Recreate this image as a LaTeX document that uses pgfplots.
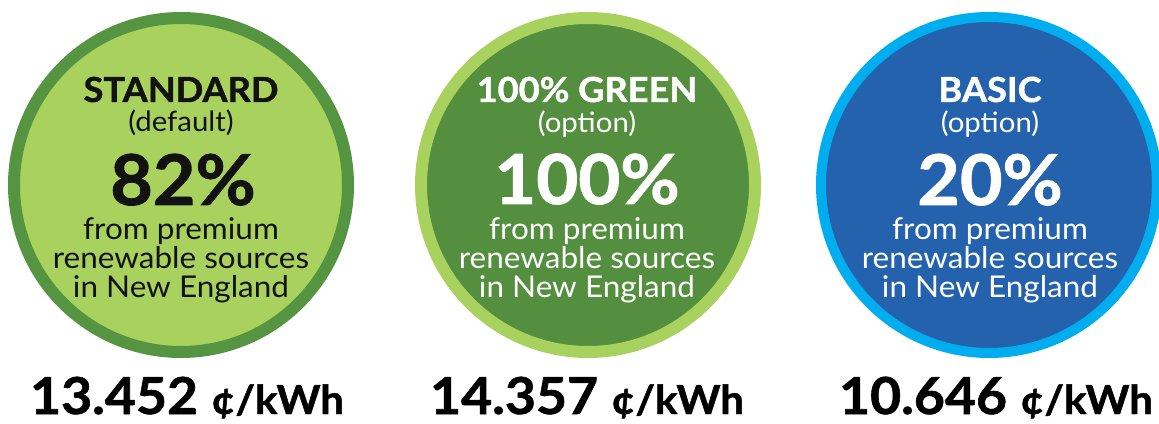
\documentclass[border=0pt]{standalone}
\usepackage{pgfplots}
\pgfplotsset{compat=1.18}
\usepackage{fontspec}
\setmainfont{Lato}[FakeStretch=1.05]
\newfontfamily\heavy{Lato}[FakeStretch=1.05, UprightFont=*-Bold, UprightFeatures={FakeBold=1.2}]
\definecolor{lgreen}{HTML}{A9D15E}
\definecolor{dgreen}{HTML}{559441}
\definecolor{mgreen}{HTML}{538F3E}
\definecolor{dblue}{HTML}{2462AE}
\definecolor{lblue}{HTML}{00AEEF}
\newcommand{\fs}[1]{\fontsize{#1}{#1}\selectfont}
\tikzset{bk/.style={anchor=base, inner sep=0pt, text=black!93}, wt/.style={anchor=base, inner sep=0pt, text=white}}
\begin{document}
\begin{tikzpicture}
\begin{axis}[width=1159pt,height=423pt,scale only axis,set layers,
  xmin=0,xmax=1159,ymin=0,ymax=423,y dir=reverse,hide axis,clip=false]
% circles (centre x, centre y)
\addplot[only marks, mark=*, mark size=167pt, mark options={fill=lgreen, draw=dgreen, line width=12pt}] coordinates {(181,185)};
\addplot[only marks, mark=*, mark size=167pt, mark options={fill=mgreen, draw=lgreen, line width=12pt}] coordinates {(588,185)};
\addplot[only marks, mark=*, mark size=168pt, mark options={fill=dblue, draw=lblue, line width=10pt}] coordinates {(989,185)};
\begin{pgfonlayer}{axis foreground}
% left
\node[bk,font=\fs{34.5}\heavy] at (axis cs:181,102) {STANDARD};
\node[bk,font=\fs{28}] at (axis cs:181,132) {(default)};
\node[bk,font=\fs{70}\heavy] at (axis cs:183,205) {82\%};
\node[bk,font=\fs{30}] at (axis cs:181,240) {from premium};
\node[bk,font=\fs{30}] at (axis cs:181,269) {renewable sources};
\node[bk,font=\fs{30}] at (axis cs:181,298) {in New England};
% middle
\node[wt,font=\fs{34.5}\heavy] at (axis cs:587,102) {100\% GREEN};
\node[wt,font=\fs{28}] at (axis cs:587,133) {(option)};
\node[wt,font=\fs{69}\heavy] at (axis cs:587,204) {100\%};
\node[wt,font=\fs{30}] at (axis cs:587,240) {from premium};
\node[wt,font=\fs{30}] at (axis cs:587,269) {renewable sources};
\node[wt,font=\fs{30}] at (axis cs:587,298) {in New England};
% right
\node[wt,font=\fs{34.5}\heavy] at (axis cs:990,102) {BASIC};
\node[wt,font=\fs{28}] at (axis cs:990,133) {(option)};
\node[wt,font=\fs{70}\heavy] at (axis cs:990,205) {20\%};
\node[wt,font=\fs{30}] at (axis cs:990,240) {from premium};
\node[wt,font=\fs{30}] at (axis cs:990,269) {renewable sources};
\node[wt,font=\fs{30}] at (axis cs:990,298) {in New England};
% prices
\node[bk,text=black] at (axis cs:187,414) {\fs{51}\heavy 13.452 {\fs{40}¢/kWh}};
\node[bk,text=black] at (axis cs:587,414) {\fs{51}\heavy 14.357 {\fs{40}¢/kWh}};
\node[bk,text=black] at (axis cs:996,414) {\fs{51}\heavy 10.646 {\fs{40}¢/kWh}};
\end{pgfonlayer}
\end{axis}
\pgfresetboundingbox
\path (current axis.south west) rectangle (current axis.north east);
\end{tikzpicture}
\end{document}
